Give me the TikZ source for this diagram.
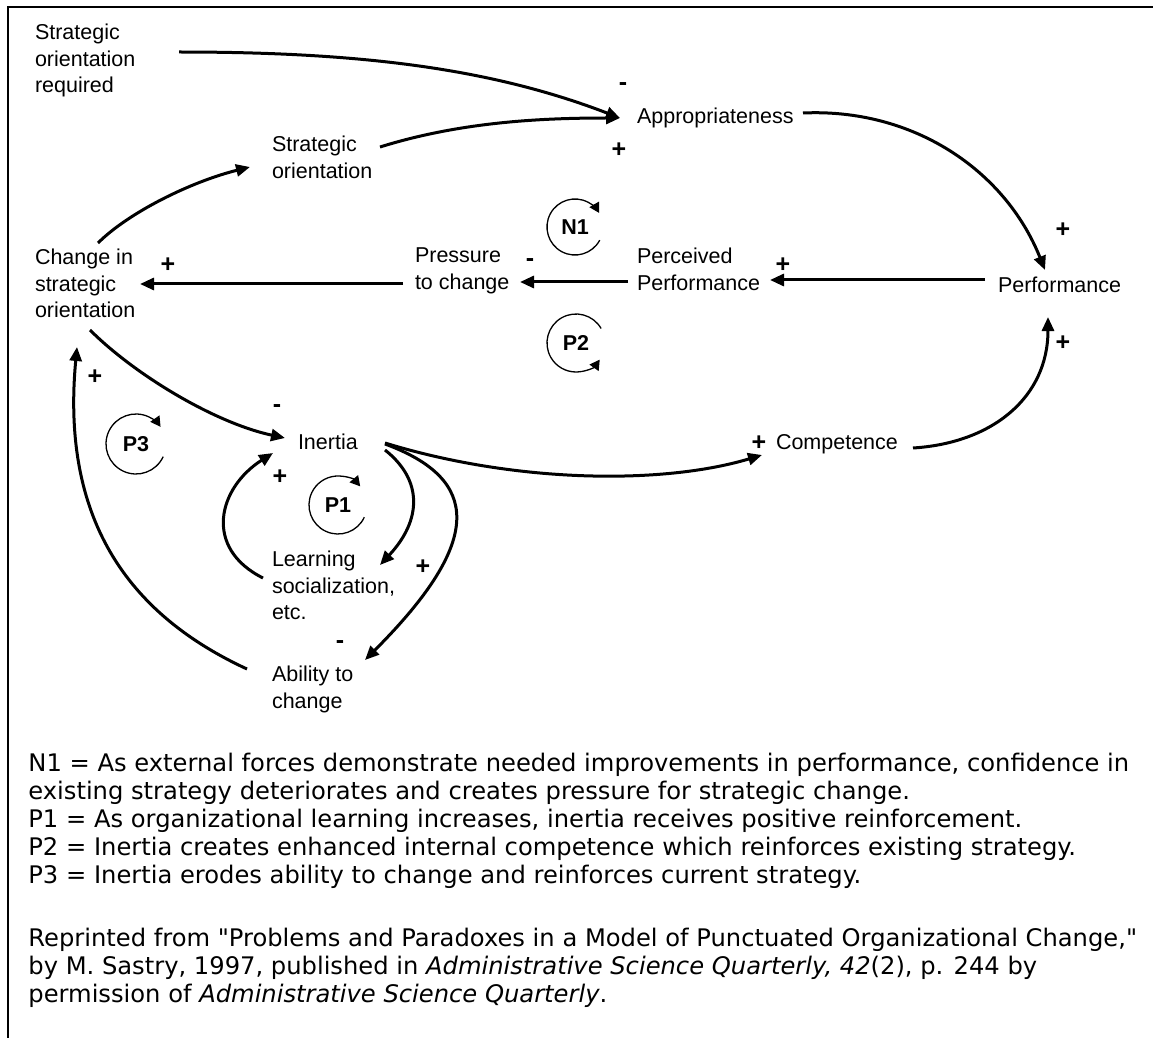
\documentclass[tikz,border=0pt]{standalone}
\usepackage{fontspec}
\setmainfont{Liberation Sans}
\newfontfamily\notefont{DejaVu Sans}
\usetikzlibrary{arrows.meta,calc}

\begin{document}
\begin{tikzpicture}[x=0.5pt,y=-0.5pt,
  lbl/.style={anchor=north west,inner sep=0pt,outer sep=0pt,align=left,
              font=\fontsize{10.75}{13.25}\selectfont},
  sgn/.style={inner sep=0pt,font=\fontsize{12.5}{14}\selectfont\bfseries},
  loopname/.style={inner sep=0pt,font=\fontsize{10.75}{13}\selectfont\bfseries},
  link/.style={line width=1.5pt,-{Triangle[length=7pt,width=6pt]}},
  looparrow/.style={line width=0.65pt,-{Triangle[length=5pt,width=5.5pt]}},
  frame/.style={line width=1pt},
  note/.style={anchor=base west,inner sep=0pt,
               font=\notefont\fontsize{12.1}{14}\selectfont},
]
\useasboundingbox (0,0) rectangle (1153,1038);

% open frame: top and left rules only
\draw[frame] (7.5,1038) -- (7.5,7.5) -- (1153,7.5);

% variables of the model
\node[lbl] (sor)     at (35,24)   {Strategic\\orientation\\required};
\node[lbl] (so)      at (272,136) {Strategic\\orientation};
\node[lbl] (app)     at (637,108) {Appropriateness};
\node[lbl] (cso)     at (35,249)  {Change in\\strategic\\orientation};
\node[lbl] (ptc)     at (415,248) {Pressure\\to change};
\node[lbl] (pp)      at (637,248) {Perceived\\Performance};
\node[lbl] (perf)    at (998,277) {Performance};
\node[lbl] (inertia) at (298,434) {Inertia};
\node[lbl] (comp)    at (776,434) {Competence};
\node[lbl] (learn)   at (272,551) {Learning\\socialization,\\etc.};
\node[lbl] (abil)    at (272,666) {Ability to\\change};

% causal links
\draw[link] ($(sor.north west)+(144,28)$) .. controls +(180,0) and +(-130,-50) .. ($(app.north west)+(-17,10)$);
\draw[link] ($(so.north west)+(108,11)$) .. controls +(80,-25) and +(-80,0) .. ($(app.north west)+(-17,10)$);
\draw[link] ($(app.north west)+(166,5)$) .. controls +(110,-5) and +(-40,-100) .. ($(perf.north west)+(47,-7)$);
\draw[link] ($(perf.north west)+(-13,3)$) -- ($(pp.north west)+(133,32)$);
\draw[link] ($(pp.north west)+(-9,34)$) -- ($(ptc.north west)+(105,34)$);
\draw[link] ($(ptc.north west)+(-12,36)$) -- ($(cso.north west)+(105,35)$);
\draw[link] ($(cso.north west)+(63,-6)$) .. controls +(30,-30) and +(-60,15) .. ($(so.north west)+(-22,31)$);
\draw[link] ($(cso.north west)+(55,81)$) .. controls +(45,45) and +(-70,-15) .. ($(inertia.north west)+(-13,4)$);
\draw[link] ($(abil.north west)+(-25,3)$) .. controls +(-130,-60) and +(-15,160) .. ($(cso.north west)+(42,98)$);
\draw[link] ($(learn.north west)+(-9,27)$) .. controls +(-60,-30) and +(-55,35) .. ($(inertia.north west)+(-25,19)$);
\draw[link] ($(inertia.north west)+(87,16)$) .. controls +(38,30) and +(42,-45) .. ($(learn.north west)+(108,14)$);
\draw[link] ($(inertia.north west)+(87,10)$) .. controls +(95,35) and +(120,-120) .. ($(abil.north west)+(93,-6)$);
\draw[link] ($(inertia.north west)+(87,9)$) .. controls +(130,40) and +(-100,30) .. ($(comp.north west)+(-14,21)$);
\draw[link] ($(comp.north west)+(137,14)$) .. controls +(80,-5) and +(0,80) .. ($(perf.north west)+(50,40)$);

% polarities
\node[sgn] (s1)  at (623,87)  {-};
\node[sgn] (s2)  at (619,150) {+};
\node[sgn] (s3)  at (1063,230) {+};
\node[sgn] (s4)  at (783,265) {+};
\node[sgn] (s5)  at (530,263) {-};
\node[sgn] (s6)  at (168,265) {+};
\node[sgn] (s7)  at (277,409) {-};
\node[sgn] (s8)  at (95,377)  {+};
\node[sgn] (s9)  at (280,477) {+};
\node[sgn] (s10) at (423,567) {+};
\node[sgn] (s11) at (340,645) {-};
\node[sgn] (s12) at (759,443) {+};
\node[sgn] (s13) at (1063,343) {+};

% feedback loop markers
\node[loopname] (n1) at (575,227) {N1};
\node[loopname] (p2) at (576,343) {P2};
\node[loopname] (p3) at (136,444) {P3};
\node[loopname] (p1) at (338,505) {P1};
\draw[looparrow] (n1.center) ++(28:28) arc[start angle=28,end angle=330,radius=28];
\draw[looparrow] (p2.center) ++(-30:29) arc[start angle=-30,end angle=-325,radius=29];
\draw[looparrow] (p3.center) ++(25:30) arc[start angle=25,end angle=325,radius=30];
\draw[looparrow] (p1.center) ++(25:29) arc[start angle=25,end angle=320,radius=29];

% notes
\node[note] (t1) at (28,771) {N1 = As external forces demonstrate needed improvements in performance, confidence in};
\node[note] (t2) at (28,799) {existing strategy deteriorates and creates pressure for strategic change.};
\node[note] (t3) at (28,827) {P1 = As organizational learning increases, inertia receives positive reinforcement.};
\node[note] (t4) at (28,855) {P2 = Inertia creates enhanced internal competence which reinforces existing strategy.};
\node[note] (t5) at (28,883) {P3 = Inertia erodes ability to change and reinforces current strategy.};
\node[note] (t6) at (28,946) {Reprinted from "Problems and Paradoxes in a Model of Punctuated Organizational Change,"};
\node[note] (t7) at (28,974) {by M. Sastry, 1997, published in \textit{Administrative Science Quarterly, 42}(2), p. 244 by};
\node[note] (t8) at (28,1002) {permission of \textit{Administrative Science Quarterly}.};
\end{tikzpicture}
\end{document}
